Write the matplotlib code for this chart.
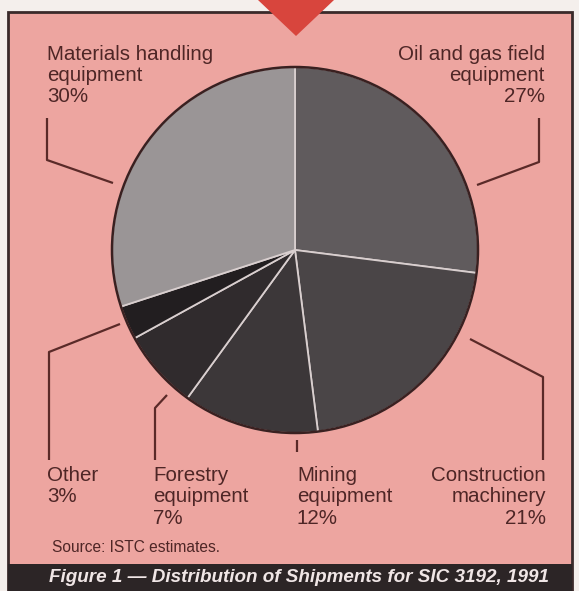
import matplotlib.pyplot as plt
from matplotlib.patches import Rectangle, Polygon, Circle

labels = ["Oil and gas field\nequipment\n27%", "Construction\nmachinery\n21%",
          "Mining\nequipment\n12%", "Forestry\nequipment\n7%", "Other\n3%",
          "Materials handling\nequipment\n30%"]
shares = [27, 21, 12, 7, 3, 30]
slice_colors = ["#605b5d", "#4a4547", "#3c3739", "#302b2d", "#221e20", "#9a9596"]
title = "Figure 1 \u2014 Distribution of Shipments for SIC 3192, 1991"
source = "Source: ISTC estimates."

W, H = 579, 591
pink = "#eda5a0"
ink = "#4e2626"

plt.rcParams['font.family'] = ['Liberation Sans', 'DejaVu Sans']

fig = plt.figure(figsize=(W / 100, H / 100), dpi=100)
fig.patch.set_facecolor("#f4efec")
ax = fig.add_axes([0, 0, 1, 1])


def Y(y):
    # convert from top-down pixel rows
    return H - y


# pie
cx, cy, r = 295, Y(250), 183
ax.pie(shares, colors=slice_colors, startangle=90, counterclock=False,
       center=(cx, cy), radius=r, frame=True,
       wedgeprops=dict(edgecolor="#d9cfcf", linewidth=1.3))
ax.set_xlim(0, W)
ax.set_ylim(0, H)
ax.set_aspect("auto")
ax.axis("off")
ax.add_patch(Circle((cx, cy), r, facecolor="none", edgecolor="#3a2020", lw=1.8, zorder=5))

# panel and bottom bar
ax.add_patch(Rectangle((8, 0), 564, Y(12), facecolor=pink, edgecolor="#3a2a2a", lw=2, zorder=0))
ax.add_patch(Rectangle((8, 0), 564, Y(564), facecolor="#2c2526", edgecolor="none", zorder=1))

# leader lines
leaders = [
    [(539, 118), (539, 162), (477, 185)],
    [(470, 339), (543, 377), (543, 460)],
    [(297, 440), (297, 452)],
    [(167, 395), (155, 408), (155, 460)],
    [(120, 324), (49, 352), (49, 460)],
    [(47, 118), (47, 160), (113, 183)],
]
for pts in leaders:
    ax.plot([p[0] for p in pts], [Y(p[1]) for p in pts], color="#5a2a28", lw=1.6,
            solid_capstyle="butt", zorder=4)

# labels
fs = 14.8
ls = 1.15
top_y, bot_y = 45, 466
ax.text(545, Y(top_y), labels[0], ha="right", va="top", fontsize=fs, color=ink, linespacing=ls)
ax.text(546, Y(bot_y), labels[1], ha="right", va="top", fontsize=fs, color=ink, linespacing=ls)
ax.text(297, Y(bot_y), labels[2], ha="left", va="top", fontsize=fs, color=ink, linespacing=ls)
ax.text(153, Y(bot_y), labels[3], ha="left", va="top", fontsize=fs, color=ink, linespacing=ls)
ax.text(47, Y(bot_y), labels[4], ha="left", va="top", fontsize=fs, color=ink, linespacing=ls)
ax.text(47, Y(top_y), labels[5], ha="left", va="top", fontsize=fs, color=ink, linespacing=ls)

ax.text(52, Y(548), source, ha="left", va="center", fontsize=11.2, color=ink)
ax.text(299, Y(578), title, ha="center", va="center", fontsize=13.6, color="#f0e6e6",
        fontweight="bold", fontstyle="italic")

# red marker at top
ax.add_patch(Polygon([(258, H), (334, H), (296, Y(36))], closed=True,
                     facecolor="#d8453d", edgecolor="none", zorder=6))

fig.savefig("out.png", dpi=100, facecolor=fig.get_facecolor())
